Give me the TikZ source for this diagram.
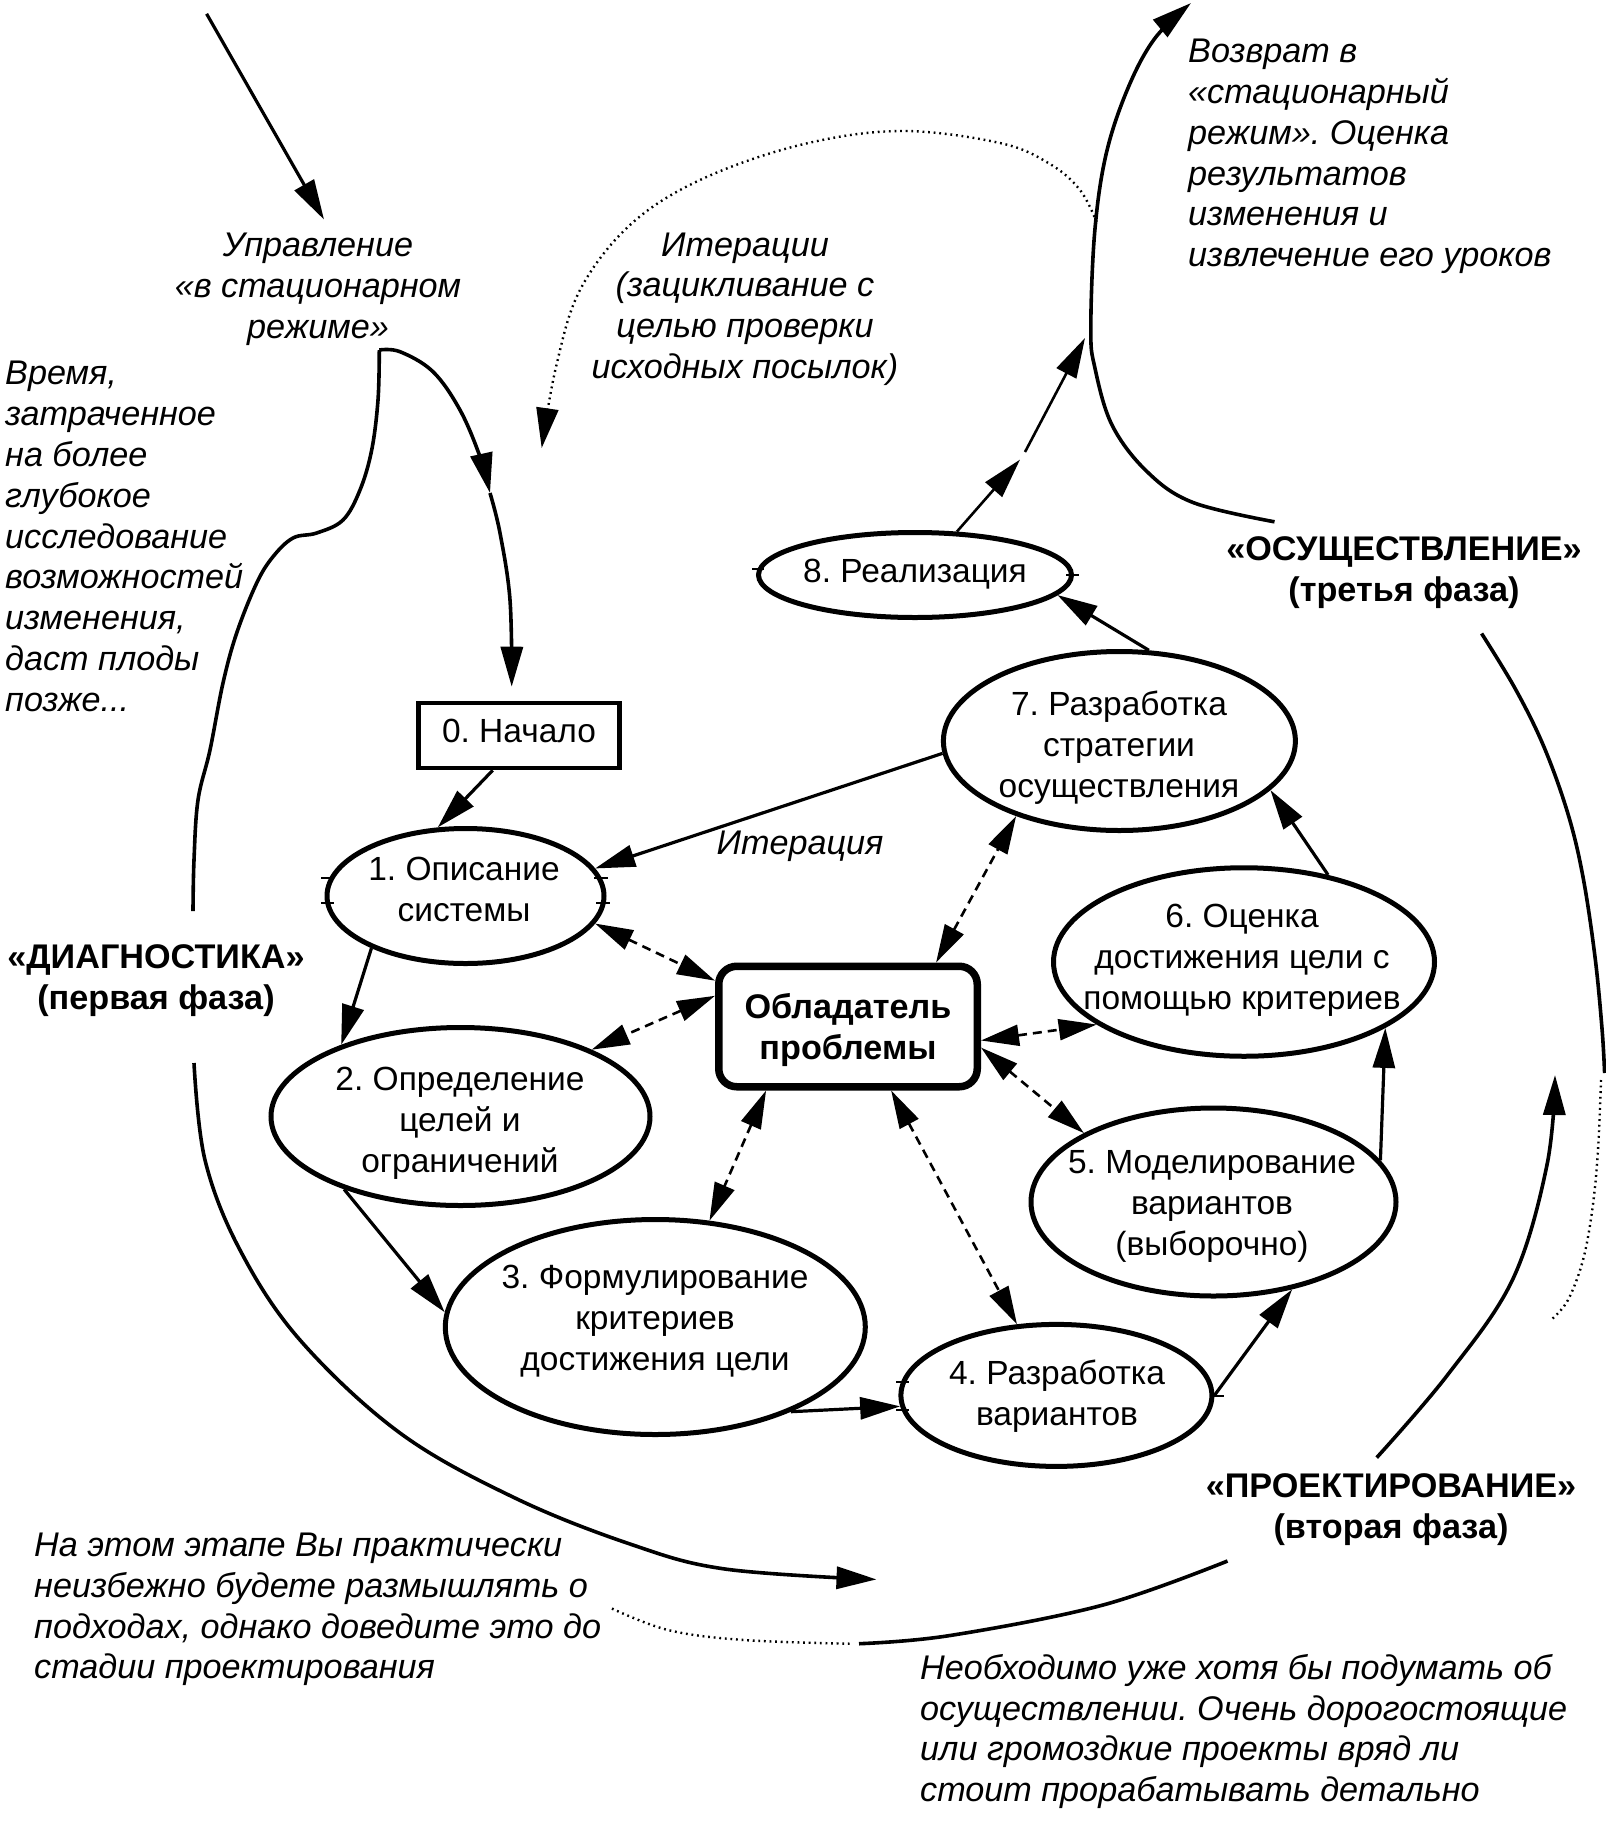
\documentclass[tikz,border=0pt]{standalone}
\usepackage{fontspec}
\setmainfont{Liberation Sans}
\usetikzlibrary{arrows.meta,shapes.geometric}
\frenchspacing
\begin{document}
\begin{tikzpicture}[x=1pt,y=-1pt,
  txt/.style={inner sep=0pt, align=center, font=\frenchspacing\fontsize{33.5}{40.8}\selectfont},
  itxt/.style={txt, font=\frenchspacing\fontsize{34.2}{40.8}\selectfont\itshape},
  btxt/.style={txt, font=\frenchspacing\fontsize{34.2}{40.8}\selectfont\bfseries},
  oval/.style={ellipse, draw, line width=5pt, inner sep=0pt},
  arr/.style={-{Triangle[length=40pt,width=22pt]}},
  conn/.style={line width=3.2pt, arr},
  dconn/.style={line width=2.6pt, dash pattern=on 9pt off 6pt, {Triangle[length=38pt,width=21pt]}-{Triangle[length=38pt,width=21pt]}},
  phasecurve/.style={line width=3.6pt},
  dotline/.style={line width=2.4pt, dash pattern=on 1.8pt off 3.8pt},
  tickmark/.style={line width=2pt}
]
\useasboundingbox (0,0) rectangle (1606,1831);

% ---------- free texts ----------
\node[itxt] (upr) at (318,289) {Управление\\«в стационарном\\режиме»};
\node[itxt, align=left, anchor=west] (vremya) at (5,536.5) {Время,\\затраченное\\на более\\глубокое\\исследование\\возможностей\\изменения,\\даст плоды\\позже...};
\node[itxt] (iter) at (745,309) {Итерации\\(зацикливание с\\целью проверки\\исходных посылок)};
\node[itxt, align=left, anchor=west] (vozvrat) at (1188,156.5) {Возврат в\\«стационарный\\режим». Оценка\\результатов\\изменения и\\извлечение его уроков};
\node[btxt] (osu) at (1404,572.5) {«ОСУЩЕСТВЛЕНИЕ»\\(третья фаза)};
\node[btxt] (diag) at (156,980.5) {«ДИАГНОСТИКА»\\(первая фаза)};
\node[btxt] (proj) at (1391,1509.5) {«ПРОЕКТИРОВАНИЕ»\\(вторая фаза)};
\node[itxt, align=left, anchor=west] (etap) at (34,1609.5) {На этом этапе Вы практически\\неизбежно будете размышлять о\\подходах, однако доведите это до\\стадии проектирования};
\node[itxt, align=left, anchor=west] (neobh) at (920,1731.5) {Необходимо уже хотя бы подумать об\\осуществлении. Очень дорогостоящие\\или громоздкие проекты вряд ли\\стоит прорабатывать детально};
\node[itxt] (iterlbl) at (800,846) {Итерация};

% ---------- nodes ----------
\node[draw, line width=4.8pt, minimum width=201.5pt, minimum height=65pt, inner sep=0pt] (b0) at (519,735.4) {};
\node[txt] (t0) at (519,731) {0. Начало};
\node[draw, line width=7.5pt, rounded corners=18pt, minimum width=258.5pt, minimum height=120.5pt, inner sep=0pt] (own) at (848,1026.5) {};
\node[btxt] (tb) at (848,1030) {Обладатель\\проблемы};

\node[oval, minimum width=277pt, minimum height=135pt] (e1) at (465.5,896) {};
\node[txt] (t1) at (464,889.5) {1. Описание\\системы};
\node[oval, minimum width=379pt, minimum height=178pt] (e2) at (460.5,1116.5) {};
\node[txt] (t2) at (460,1123) {2. Определение\\целей и\\ограничений};
\node[oval, minimum width=420pt, minimum height=215pt] (e3) at (655.3,1327) {};
\node[txt] (t3) at (655,1321.3) {3. Формулирование\\критериев\\достижения цели};
\node[oval, minimum width=311pt, minimum height=142pt] (e4) at (1056.4,1395.4) {};
\node[txt] (t4) at (1057,1396) {4. Разработка\\вариантов};
\node[oval, minimum width=365pt, minimum height=188pt] (e5) at (1213.5,1202) {};
\node[txt] (t5) at (1212,1206.3) {5. Моделирование\\вариантов\\(выборочно)};
\node[oval, minimum width=381pt, minimum height=188.5pt] (e6) at (1244,962) {};
\node[txt] (t6) at (1242,960) {6. Оценка\\достижения цели с\\помощью критериев};
\node[oval, minimum width=352pt, minimum height=179pt] (e7) at (1119.4,741) {};
\node[txt] (t7) at (1119,747.6) {7. Разработка\\стратегии\\осуществления};
\node[oval, minimum width=313pt, minimum height=85pt] (e8) at (915,575) {};
\node[txt] (t8) at (915,574.3) {8. Реализация};

% ---------- free coordinates ----------
\coordinate (tl0) at (206.6,13.8);
\coordinate (tl1) at (324,219.5);
\coordinate (up1) at (1020,459.6);
\coordinate (up2) at (1025,452);
\coordinate (up3) at (1085,338);
\coordinate (cusp) at (379.3,350);
\coordinate (mid) at (490,493);
\coordinate (startend) at (511.7,686.7);

% ---------- solid connectors ----------
\draw[conn] (tl0) -- (tl1);
\draw[conn] (b0.-127.6) -- (e1.112.3);
\draw[conn] (e1.209.2) -- (e2.149.8);
\draw[conn] (e2.212) -- (e3.176);
\draw[conn] (e3.-32.9) -- (e4.184.6);
\draw[conn] (e4.0) -- (e5.-48.3);
\draw[conn] (e5.14.6) -- (e6.-25.7);
\draw[conn] (e6.46.2) -- (e7.-18.3);
\draw[conn] (e7.72.4) -- (e8.-8.8);
\draw[conn] (e7.184.8) -- (e1.12.3);
\draw[conn, line width=2.6pt] (e8.46.7) -- (up1);
\draw[conn, line width=2.6pt] (up2) -- (up3);

% ---------- dashed connectors ----------
\draw[dconn] (e1.-12.5) -- (own.161.3);
\draw[dconn] (own.167.9) -- (e2.27.5);
\draw[dconn] (own.-142.8) -- (e3.63.8);
\draw[dconn] (own.-56.5) -- (e4.119.3);
\draw[dconn] (own.-9.9) -- (e5.152.7);
\draw[dconn] (own.-6.2) -- (e6.203.5);
\draw[dconn] (own.36.4) -- (e7.216.1);

% ---------- phase curves ----------
\draw[phasecurve, arr] plot[smooth, tension=0.6] coordinates {(cusp) (400,351.7) (433,371.7) (460,410) (480,456.7) (mid)};
\draw[phasecurve, arr] plot[smooth, tension=0.6] coordinates {(mid) (500,533) (510,600) (startend)};
\draw[phasecurve] plot[smooth, tension=0.6] coordinates {(cusp) (378,400) (371.7,450) (360,490) (343,520) (316.7,533) (293,538) (273,556.7) (256.7,583) (236.7,633) (223,683) (210,750) (198,800) (194,860) (193,911)};
\draw[phasecurve, arr] plot[smooth, tension=0.6] coordinates {(194,1063) (205,1160) (240,1250) (300,1340) (400,1433) (515,1498) (630,1544) (725,1569) (876.5,1579.4)};
\draw[dotline, arr] plot[smooth, tension=0.6] coordinates {(1096.6,222) (1080,190) (1050,164) (1000,143) (900,131) (800,145) (700,180) (630,225) (580,290) (556,367) (541.7,448)};
\draw[phasecurve, arr] plot[smooth, tension=0.6] coordinates {(1274.5,521.8) (1193,502.5) (1147,471.6) (1112,425) (1094.7,367) (1090.8,328.6) (1094.7,232) (1106,154.6) (1127.6,89) (1154.6,38.7) (1191,3)};
\draw[phasecurve] plot[smooth, tension=0.6] coordinates {(1481.6,633.5) (1515.4,689) (1544,747) (1568,814) (1583,877) (1595,957) (1602,1028.6) (1604.6,1073)};
\draw[dotline] plot[smooth, tension=0.6] coordinates {(1601,1080) (1598,1150) (1592.5,1208) (1583,1260) (1568,1300) (1552,1319)};
\draw[phasecurve, arr] plot[smooth, tension=0.6] coordinates {(1376.7,1457.6) (1447.5,1375) (1512.6,1279.6) (1547,1164.8) (1555,1075)};
\draw[phasecurve] plot[smooth, tension=0.6] coordinates {(1227.5,1561) (1103,1605) (950,1635.5) (859,1643.7)};
\draw[dotline] plot[smooth, tension=0.6] coordinates {(849.7,1643.7) (744,1640) (668,1630) (608.6,1607)};

% ---------- small tick marks ----------
\draw[tickmark] (321,877.6) -- (334,877.6);
\draw[tickmark] (321,902.5) -- (334,902.5);
\draw[tickmark] (594,877.6) -- (608,877.6);
\draw[tickmark] (596,902.5) -- (610,902.5);
\draw[tickmark] (896,1381.5) -- (909,1381.5);
\draw[tickmark] (896,1410) -- (909,1410);
\draw[tickmark] (1210,1396) -- (1224,1396);
\draw[tickmark] (752,569) -- (764,569);
\draw[tickmark] (1066,575) -- (1079,575);
\end{tikzpicture}
\end{document}
